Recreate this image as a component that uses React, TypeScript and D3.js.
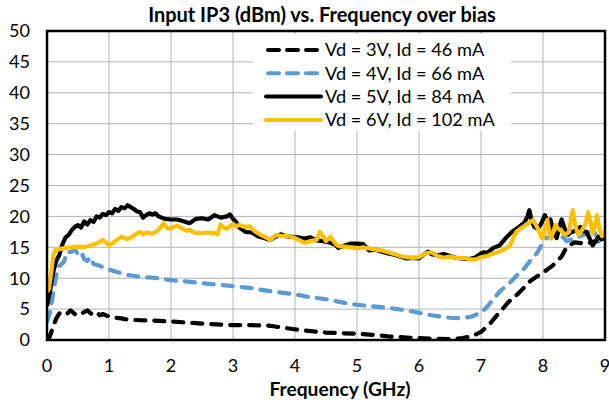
import React from "react";
import * as d3 from "d3";

const title = "Input IP3 (dBm) vs. Frequency over bias";
const xLabel = "Frequency (GHz)";
const xTicks = [0, 1, 2, 3, 4, 5, 6, 7, 8, 9];
const yTicks = [0, 5, 10, 15, 20, 25, 30, 35, 40, 45, 50];

const seriesNames = [
  "Vd = 3V, Id = 46 mA",
  "Vd = 4V, Id = 66 mA",
  "Vd = 5V, Id = 84 mA",
  "Vd = 6V, Id = 102 mA",
];
const seriesColors = ["#000000", "#5b9bd5", "#000000", "#ffc000"];
const seriesDashed = [true, true, false, false];

const data3V: [number, number][] = [
  [0.02, 0], [0.06, 1.0], [0.1, 2.2], [0.15, 3.5], [0.2, 4.3], [0.27, 4.6], [0.33, 4.3],
  [0.38, 4.8], [0.45, 4.2], [0.5, 4.6], [0.58, 4.4], [0.65, 4.8], [0.72, 4.2], [0.8, 4.5],
  [0.85, 4.0], [0.9, 4.2], [1.0, 3.8], [1.1, 3.6], [1.2, 3.5], [1.3, 3.3], [1.5, 3.2],
  [1.8, 3.1], [2.0, 3.0], [2.3, 2.8], [2.6, 2.6], [3.0, 2.4], [3.3, 2.4], [3.6, 2.3],
  [3.8, 2.0], [4.1, 1.6], [4.5, 1.2], [5.0, 1.0], [5.3, 0.8], [5.5, 0.6], [5.8, 0.4],
  [6.0, 0.3], [6.3, 0.2], [6.5, 0.15], [6.7, 0.3], [6.85, 0.6], [7.0, 1.3], [7.15, 2.7],
  [7.3, 4.5], [7.45, 6.2], [7.6, 7.5], [7.8, 9.6], [8.0, 10.9], [8.15, 12.0], [8.3, 13.5],
  [8.38, 15.0], [8.5, 15.8], [8.7, 15.6], [8.85, 16.0], [9.0, 16.3],
];

const data4V: [number, number][] = [
  [0.0, 3.0], [0.05, 4.5], [0.1, 7.5], [0.15, 10.5], [0.2, 12.0], [0.27, 12.6], [0.33, 14.3],
  [0.38, 14.2], [0.45, 14.6], [0.5, 13.9], [0.55, 14.3], [0.6, 13.1], [0.65, 12.8], [0.7, 13.4],
  [0.75, 12.3], [0.85, 12.0], [0.9, 11.8], [1.0, 11.4], [1.1, 11.1], [1.2, 10.8], [1.3, 10.5],
  [1.4, 10.4], [1.5, 10.2], [1.7, 10.1], [1.8, 10.0], [2.0, 9.7], [2.2, 9.5], [2.5, 9.2],
  [2.8, 8.9], [3.0, 8.7], [3.3, 8.4], [3.6, 7.9], [4.0, 7.4], [4.2, 7.0], [4.5, 6.6],
  [4.8, 6.0], [5.0, 5.7], [5.3, 5.4], [5.5, 5.2], [5.8, 4.8], [6.0, 4.4], [6.2, 4.0],
  [6.5, 3.6], [6.7, 3.5], [6.85, 3.8], [7.0, 4.4], [7.1, 5.4], [7.2, 6.6], [7.3, 7.8],
  [7.4, 8.7], [7.5, 9.6], [7.6, 10.7], [7.7, 11.6], [7.8, 12.9], [7.9, 14.0], [8.0, 15.8],
  [8.05, 16.5], [8.15, 16.8], [8.25, 17.2], [8.35, 16.4], [8.38, 16.0], [8.45, 16.3],
  [8.5, 16.4], [8.6, 16.8], [8.7, 17.2], [8.8, 18.0], [8.85, 17.0], [8.9, 16.2], [9.0, 15.6],
];

const data5V: [number, number][] = [
  [0.0, 5.5], [0.05, 8], [0.1, 11], [0.15, 12.8], [0.2, 13.8], [0.25, 15.5], [0.3, 16.6],
  [0.35, 17], [0.4, 17.8], [0.45, 18.3], [0.5, 18.6], [0.55, 18.2], [0.6, 19.2], [0.65, 18.7],
  [0.7, 19.4], [0.75, 19.1], [0.8, 20], [0.85, 19.8], [0.9, 20.4], [0.95, 20.2], [1.0, 20.7],
  [1.05, 20.5], [1.1, 21.2], [1.15, 20.9], [1.2, 21.5], [1.25, 21.3], [1.3, 21.8], [1.35, 21.5],
  [1.4, 21.2], [1.45, 20.8], [1.5, 20.7], [1.55, 19.8], [1.6, 20.2], [1.65, 20.5], [1.7, 20.3],
  [1.75, 20.5], [1.8, 20.0], [1.85, 19.8], [1.9, 19.6], [2.0, 19.5], [2.1, 19.5], [2.2, 19.2],
  [2.3, 18.9], [2.4, 19.6], [2.5, 19.7], [2.6, 19.5], [2.7, 20.2], [2.8, 19.8], [2.9, 20.0],
  [2.95, 20.3], [3.0, 19.6], [3.05, 19.1], [3.1, 18.2], [3.2, 17.5], [3.3, 17.4], [3.4, 16.8],
  [3.5, 16.5], [3.6, 16.2], [3.7, 16.8], [3.77, 17.1], [3.85, 16.8], [3.95, 16.7], [4.05, 16.6],
  [4.15, 16.4], [4.25, 16.6], [4.35, 16.1], [4.45, 16.0], [4.55, 15.8], [4.65, 15.4], [4.7, 14.9],
  [4.8, 15.3], [4.9, 15.6], [5.0, 15.6], [5.1, 15.5], [5.2, 14.5], [5.3, 14.6], [5.4, 14.3],
  [5.5, 14.0], [5.6, 13.8], [5.7, 13.5], [5.8, 13.2], [5.9, 13.3], [6.0, 13.2], [6.1, 14.0],
  [6.15, 14.3], [6.2, 13.9], [6.3, 13.7], [6.4, 13.9], [6.5, 13.6], [6.6, 13.3], [6.7, 13.2],
  [6.8, 13.1], [6.9, 13.3], [7.0, 14.0], [7.05, 14.2], [7.1, 14.1], [7.2, 14.9], [7.3, 15.3],
  [7.4, 16.5], [7.5, 17.5], [7.6, 18.2], [7.7, 19.0], [7.75, 20.0], [7.78, 21.0], [7.82, 19.2],
  [7.86, 18.3], [7.92, 18.0], [7.98, 19.0], [8.03, 20.2], [8.08, 19.0], [8.12, 19.5], [8.18, 17.0],
  [8.22, 16.5], [8.27, 18.5], [8.3, 19.5], [8.35, 18.0], [8.4, 17.0], [8.45, 17.4], [8.5, 17.6],
  [8.55, 17.9], [8.6, 18.3], [8.65, 17.6], [8.7, 17.5], [8.75, 16.5], [8.8, 15.3], [8.85, 16.0],
  [8.9, 16.7], [8.95, 16.3], [9.0, 16.4],
];

const data6V: [number, number][] = [
  [0.0, 7.8], [0.03, 8.2], [0.07, 11], [0.1, 13.7], [0.13, 14.5], [0.2, 14.7], [0.3, 14.9],
  [0.4, 15.0], [0.5, 15.1], [0.6, 15.0], [0.7, 15.3], [0.8, 15.6], [0.9, 16.2], [0.95, 15.8],
  [1.0, 15.3], [1.05, 15.6], [1.1, 16.0], [1.2, 16.7], [1.3, 16.3], [1.35, 16.6], [1.4, 16.9],
  [1.5, 17.5], [1.55, 17.1], [1.6, 17.4], [1.7, 17.2], [1.8, 17.8], [1.88, 18.9], [1.95, 18.0],
  [2.0, 18.1], [2.1, 18.5], [2.2, 17.9], [2.25, 17.7], [2.3, 17.8], [2.4, 17.3], [2.5, 17.3],
  [2.6, 17.4], [2.7, 17.3], [2.75, 17.1], [2.8, 18.7], [2.85, 18.2], [2.9, 18.0], [3.0, 18.8],
  [3.05, 18.4], [3.1, 18.6], [3.2, 18.3], [3.27, 18.4], [3.35, 17.6], [3.45, 17.0], [3.55, 16.5],
  [3.6, 16.2], [3.7, 17.0], [3.8, 16.8], [3.9, 16.8], [4.0, 16.5], [4.1, 16.0], [4.15, 15.7],
  [4.25, 16.0], [4.35, 16.2], [4.4, 17.5], [4.45, 16.8], [4.5, 16.0], [4.57, 16.7], [4.65, 15.6],
  [4.7, 15.2], [4.8, 15.1], [4.9, 15.0], [5.0, 14.8], [5.1, 15.0], [5.2, 14.8], [5.3, 14.6],
  [5.4, 14.5], [5.5, 14.2], [5.6, 13.9], [5.7, 13.6], [5.8, 13.4], [5.9, 13.3], [6.0, 13.4],
  [6.1, 14.0], [6.2, 14.2], [6.3, 13.6], [6.4, 13.3], [6.5, 13.5], [6.6, 13.3], [6.7, 13.3],
  [6.8, 13.1], [6.9, 13.0], [7.0, 13.4], [7.1, 13.6], [7.2, 14.0], [7.3, 14.3], [7.4, 14.8],
  [7.47, 15.3], [7.52, 16.5], [7.57, 17.5], [7.63, 18.0], [7.68, 18.3], [7.76, 18.9], [7.84, 19.4],
  [7.88, 18.7], [7.92, 18.0], [7.97, 16.6], [8.0, 16.5], [8.04, 18.5], [8.07, 19.4], [8.1, 17.5],
  [8.13, 16.4], [8.2, 18.6], [8.25, 18.0], [8.3, 17.6], [8.36, 17.0], [8.42, 17.5], [8.46, 20.0],
  [8.48, 21.0], [8.52, 18.5], [8.57, 17.0], [8.63, 17.8], [8.68, 18.6], [8.73, 20.7], [8.77, 19.0],
  [8.8, 17.2], [8.84, 18.5], [8.87, 20.2], [8.91, 18.0], [8.95, 16.8], [9.0, 17.5],
];

const allSeries = [data3V, data4V, data5V, data6V];

const W = 609;
const H = 406;
const plot = { left: 47, right: 605, top: 31, bottom: 340 };
const FONT = "Lato, 'Open Sans', sans-serif";

export default function App() {
  const x = d3.scaleLinear().domain([0, 9]).range([plot.left, plot.right]);
  const y = d3.scaleLinear().domain([0, 50]).range([plot.bottom, plot.top]);
  const line = d3
    .line<[number, number]>()
    .x((d) => x(d[0]))
    .y((d) => y(d[1]))
    .curve(d3.curveLinear);

  const legendX = 266;
  const legendY0 = 50;
  const legendDy = 23.3;

  return (
    <svg
      width={W}
      height={H}
      style={{ position: "absolute", left: 0, top: 0, background: "#fff" }}
      fontFamily={FONT}
    >
      <rect x={0} y={0} width={W} height={H} fill="#fff" />
      {yTicks.map((t) => (
        <line key={"gy" + t} x1={plot.left} x2={plot.right} y1={y(t)} y2={y(t)} stroke="#b3b3b3" strokeWidth={1} />
      ))}
      {xTicks.map((t) => (
        <line key={"gx" + t} x1={x(t)} x2={x(t)} y1={plot.top} y2={plot.bottom} stroke="#b3b3b3" strokeWidth={1} />
      ))}
      <rect x={253} y={34} width={258} height={97} fill="#fff" />
      <defs>
        <clipPath id="plotclip">
          <rect x={plot.left} y={plot.top} width={plot.right - plot.left} height={plot.bottom - plot.top} />
        </clipPath>
      </defs>
      <g clipPath="url(#plotclip)">
        {allSeries.map((s, i) => (
          <path
            key={"s" + i}
            d={line(s) || ""}
            fill="none"
            stroke={seriesColors[i]}
            strokeWidth={4.2}
            strokeDasharray={seriesDashed[i] ? "10,9" : undefined}
            strokeLinecap={seriesDashed[i] ? "round" : "butt"}
            strokeLinejoin="round"
          />
        ))}
      </g>
      <rect
        x={plot.left}
        y={plot.top}
        width={plot.right - plot.left}
        height={plot.bottom - plot.top}
        fill="none"
        stroke="#000"
        strokeWidth={2.5}
      />
      {yTicks.map((t) => (
        <text key={"ty" + t} x={30} y={y(t)} dy="0.35em" textAnchor="end" fontSize={18} fill="#000">
          {t}
        </text>
      ))}
      {xTicks.map((t) => (
        <text key={"tx" + t} x={x(t)} y={366} dy="0.35em" textAnchor="middle" fontSize={18} fill="#000">
          {t}
        </text>
      ))}
      <text x={340} y={389} dy="0.35em" textAnchor="middle" fontSize={19.2} fontWeight="bold" fill="#000">
        {xLabel}
      </text>
      <text x={322} y={15} dy="0.35em" textAnchor="middle" fontSize={20} fontWeight="bold" fill="#000">
        {title}
      </text>
      {seriesNames.map((name, i) => (
        <g key={"lg" + i}>
          <line
            x1={legendX + (seriesDashed[i] ? 2 : 0)}
            x2={legendX + 55 - (seriesDashed[i] ? 2 : 0)}
            y1={legendY0 + i * legendDy}
            y2={legendY0 + i * legendDy}
            stroke={seriesColors[i]}
            strokeWidth={4}
            strokeDasharray={seriesDashed[i] ? "11,8" : undefined}
            strokeLinecap="round"
          />
          <text x={legendX + 59} y={legendY0 + i * legendDy} dy="0.35em" fontSize={18.2} fill="#000">
            {name}
          </text>
        </g>
      ))}
    </svg>
  );
}
